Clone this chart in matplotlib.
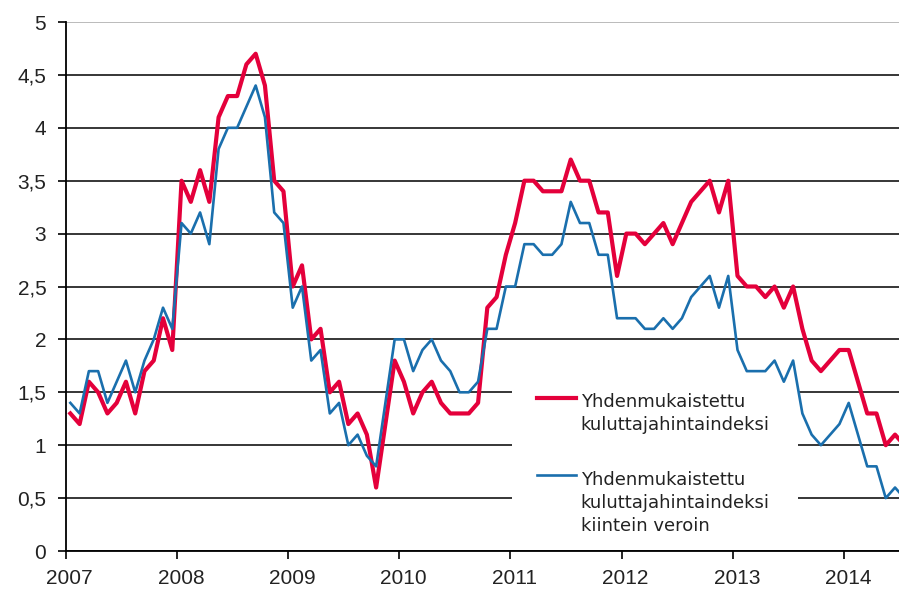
import numpy as np
import matplotlib.pyplot as plt
import matplotlib.transforms as mtransforms
from matplotlib.patches import Rectangle

# annual change, %, monthly Jan 2007 - Jul 2014
hicp = [1.3, 1.2, 1.6, 1.5, 1.3, 1.4, 1.6, 1.3, 1.7, 1.8, 2.2, 1.9,
        3.5, 3.3, 3.6, 3.3, 4.1, 4.3, 4.3, 4.6, 4.7, 4.4, 3.5, 3.4,
        2.5, 2.7, 2.0, 2.1, 1.5, 1.6, 1.2, 1.3, 1.1, 0.6, 1.2, 1.8,
        1.6, 1.3, 1.5, 1.6, 1.4, 1.3, 1.3, 1.3, 1.4, 2.3, 2.4, 2.8,
        3.1, 3.5, 3.5, 3.4, 3.4, 3.4, 3.7, 3.5, 3.5, 3.2, 3.2, 2.6,
        3.0, 3.0, 2.9, 3.0, 3.1, 2.9, 3.1, 3.3, 3.4, 3.5, 3.2, 3.5,
        2.6, 2.5, 2.5, 2.4, 2.5, 2.3, 2.5, 2.1, 1.8, 1.7, 1.8, 1.9,
        1.9, 1.6, 1.3, 1.3, 1.0, 1.1, 1.0]
hicp_ct = [1.4, 1.3, 1.7, 1.7, 1.4, 1.6, 1.8, 1.5, 1.8, 2.0, 2.3, 2.1,
           3.1, 3.0, 3.2, 2.9, 3.8, 4.0, 4.0, 4.2, 4.4, 4.1, 3.2, 3.1,
           2.3, 2.5, 1.8, 1.9, 1.3, 1.4, 1.0, 1.1, 0.9, 0.8, 1.4, 2.0,
           2.0, 1.7, 1.9, 2.0, 1.8, 1.7, 1.5, 1.5, 1.6, 2.1, 2.1, 2.5,
           2.5, 2.9, 2.9, 2.8, 2.8, 2.9, 3.3, 3.1, 3.1, 2.8, 2.8, 2.2,
           2.2, 2.2, 2.1, 2.1, 2.2, 2.1, 2.2, 2.4, 2.5, 2.6, 2.3, 2.6,
           1.9, 1.7, 1.7, 1.7, 1.8, 1.6, 1.8, 1.3, 1.1, 1.0, 1.1, 1.2,
           1.4, 1.1, 0.8, 0.8, 0.5, 0.6, 0.5]
years = list(range(2007, 2015))
yticks = [0, 0.5, 1, 1.5, 2, 2.5, 3, 3.5, 4, 4.5, 5]
label_hicp = 'Yhdenmukaistettu\nkuluttajahintaindeksi'
label_ct = 'Yhdenmukaistettu\nkuluttajahintaindeksi\nkiintein veroin'

plt.rcParams['font.family'] = ['Liberation Sans', 'DejaVu Sans']

x = 2007 + (np.arange(len(hicp)) + 0.5) / 12  # mid-month

fig = plt.figure(figsize=(8.99, 5.90), dpi=100)
ax = fig.add_axes([0.0731, 0.0661, 0.9269, 0.8966])

red = '#e4003b'
blue = '#1a6fad'
ax.plot(x, hicp, color=red, lw=3.0, zorder=4)
ax.plot(x, hicp_ct, color=blue, lw=1.9, zorder=5)

ax.set_xlim(2007, 2014.494)
ax.set_ylim(0, 5)
ax.set_xticks(years)
ax.set_xticklabels([str(y) for y in years])
ax.set_yticks(yticks)
ax.set_yticklabels([f'{v:g}'.replace('.', ',') for v in yticks])

ax.set_axisbelow(True)
ax.grid(axis='y', color='black', lw=1.1)
ax.yaxis.get_gridlines()[-1].set_color('#a8a8a8')

for s in ['top', 'right']:
    ax.spines[s].set_visible(False)
for s in ['left', 'bottom']:
    ax.spines[s].set_linewidth(1.3)

ax.tick_params(axis='both', direction='out', length=6, width=1.2,
               labelsize=15, labelcolor='#222222')
ax.tick_params(axis='y', pad=8)
ax.tick_params(axis='x', pad=7)
shift = mtransforms.ScaledTranslation(4 / 100, 0, fig.dpi_scale_trans)
for lab in ax.get_xticklabels():
    lab.set_transform(lab.get_transform() + shift)

# legend: white box hides grid lines behind it
ax.add_patch(Rectangle((0.5356, 0.03), 0.343, 0.332, transform=ax.transAxes,
                       facecolor='white', edgecolor='none', zorder=2))
ax.plot([0.5656, 0.6124], [0.290, 0.290], color=red, lw=3.0,
        transform=ax.transAxes, zorder=3)
ax.text(0.618, 0.2603, label_hicp, transform=ax.transAxes, fontsize=13,
        va='center', ha='left', linespacing=1.36, color='#222222',
        family='DejaVu Sans', zorder=3)
ax.plot([0.5656, 0.6124], [0.143, 0.143], color=blue, lw=1.9,
        transform=ax.transAxes, zorder=3)
ax.text(0.618, 0.0902, label_ct, transform=ax.transAxes, fontsize=13,
        va='center', ha='left', linespacing=1.36, color='#222222',
        family='DejaVu Sans', zorder=3)

fig.savefig('out.png', dpi=100)
